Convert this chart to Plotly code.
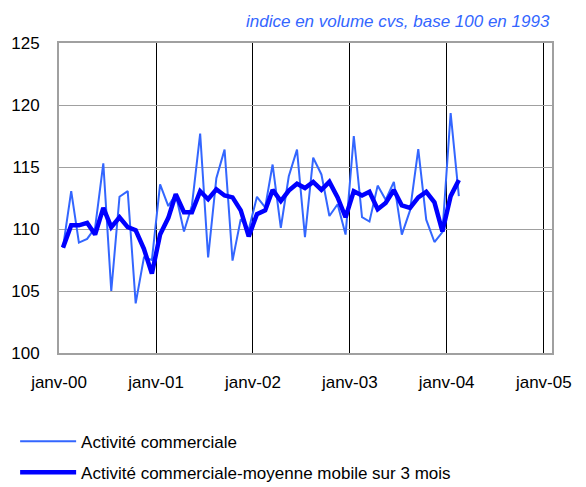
import pandas as pd
import plotly.graph_objects as go

# Monthly data, Jan 2000 - Feb 2004
start_month = "2000-01-01"
activite = [108.5, 113.05, 108.9, 109.2, 110.1, 115.3, 105.0, 112.6, 113.05, 104.0, 107.7, 107.5,
            113.6, 111.85, 112.8, 109.8, 111.9, 117.7, 107.7, 114.1, 116.4, 107.45, 110.8, 109.95,
            112.6, 111.75, 115.2, 110.1, 114.25, 116.4, 109.35, 115.75, 114.4, 111.05, 112.0, 109.55,
            117.5, 110.95, 110.6, 113.5, 112.35, 113.8, 109.55, 111.5, 116.45, 110.75, 108.95, 109.75,
            119.35, 112.65]
moyenne_mobile = [108.5, 110.3, 110.3, 110.5, 109.55, 111.7, 110.15, 110.95, 110.15, 109.9, 108.4, 106.4,
                  109.55, 110.9, 112.8, 111.35, 111.35, 113.05, 112.4, 113.2, 112.7, 112.55, 111.5, 109.4,
                  111.2, 111.5, 113.15, 112.25, 113.1, 113.65, 113.3, 113.8, 113.15, 113.8, 112.55, 110.95,
                  113.05, 112.7, 113.0, 111.6, 112.1, 113.15, 111.9, 111.7, 112.55, 113.0, 112.15, 109.8,
                  112.65, 113.95]
tick_dates = ["2000-01-01", "2001-01-01", "2002-01-01", "2003-01-01", "2004-01-01", "2005-01-01"]
tick_labels = ["janv-00", "janv-01", "janv-02", "janv-03", "janv-04", "janv-05"]
y_ticks = [100, 105, 110, 115, 120, 125]
name_thin = "Activité commerciale"
name_thick = "Activité commerciale-moyenne mobile sur 3 mois"
subtitle = "indice en volume cvs, base 100 en 1993"

# points are centred in their month slot
months = pd.date_range(start=start_month, periods=len(activite), freq="MS") + pd.Timedelta(days=15)

FONT = "Liberation Sans, Arial, sans-serif"

fig = go.Figure()
fig.add_trace(go.Scatter(x=months, y=activite, mode="lines", name=name_thin,
                         legendgroup="a",
                         line=dict(color="#3366FF", width=2)))
fig.add_trace(go.Scatter(x=months, y=moyenne_mobile, mode="lines", name=name_thick,
                         legendgroup="b",
                         line=dict(color="#0000FF", width=4.5)))

fig.add_annotation(text=subtitle, xref="paper", yref="paper", x=1.0, y=1.07,
                   xanchor="right", yanchor="middle", showarrow=False,
                   font=dict(family=FONT, size=17, color="#3366FF", style="italic"))

# page body has an 8px margin, so the figure is sized to fit the window
fig.update_layout(
    width=578, height=479,
    margin=dict(l=51, r=34, t=35, b=134, autoexpand=False),
    paper_bgcolor="white", plot_bgcolor="white",
    font=dict(family=FONT, size=17, color="black"),
    showlegend=True,
    legend=dict(x=-0.089, y=-0.228, xanchor="left", yanchor="top",
                orientation="v", tracegroupgap=6, itemwidth=56,
                font=dict(family=FONT, size=17, color="black"),
                bgcolor="rgba(0,0,0,0)"),
)
fig.update_xaxes(
    type="date", range=["2000-01-01", "2005-02-01"],
    tickvals=tick_dates, ticktext=tick_labels,
    showgrid=True, gridcolor="black", gridwidth=1,
    showline=True, linecolor="#A0A0A0", linewidth=2, mirror=True,
    ticks="", ticklabelstandoff=13, zeroline=False, automargin=False,
    tickfont=dict(family=FONT, size=17),
)
fig.update_yaxes(
    range=[100, 125], tickvals=y_ticks,
    showgrid=True, gridcolor="#A0A0A0", gridwidth=1,
    showline=True, linecolor="#A0A0A0", linewidth=2, mirror=True,
    ticks="", ticklabelstandoff=14, zeroline=False, automargin=False,
    tickfont=dict(family=FONT, size=17),
)

fig.write_html("out.html")
